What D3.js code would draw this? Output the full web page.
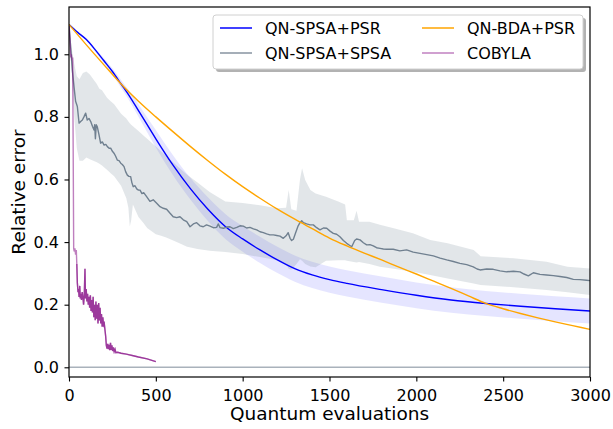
<!DOCTYPE html>
<html>
<head>
<meta charset="utf-8">
<script src="https://cdn.jsdelivr.net/npm/d3@7"></script>
<style>
  body { margin: 0; background: #fff; }
  svg { display: block; font-family: "DejaVu Sans", sans-serif; }
</style>
</head>
<body>
<div id="chart"></div>
<script>
'use strict';

const width = 613;
const height = 429;

// ----- data -----
const xTicks = [0, 500, 1000, 1500, 2000, 2500, 3000];
const yTicks = [0.0, 0.2, 0.4, 0.6, 0.8, 1.0];

// QN-SPSA+PSR (mean and band half width)
const psrX = [0, 50, 100, 150, 200, 250, 300, 350, 400, 450, 500, 600, 700, 800, 900, 1000, 1100, 1200, 1300, 1400, 1500, 1600, 1800, 2000, 2200, 2400, 2600, 2800, 3000];
const psrY = [1.095, 1.07, 1.047, 1.015, 0.98, 0.945, 0.905, 0.865, 0.82, 0.775, 0.73, 0.645, 0.57, 0.505, 0.45, 0.41, 0.375, 0.343, 0.315, 0.295, 0.28, 0.268, 0.248, 0.23, 0.215, 0.204, 0.195, 0.187, 0.18];
const psrErr = [0, 0.001, 0.003, 0.005, 0.008, 0.01, 0.013, 0.016, 0.02, 0.024, 0.028, 0.032, 0.035, 0.038, 0.04, 0.041, 0.042, 0.042, 0.042, 0.042, 0.042, 0.042, 0.042, 0.041, 0.041, 0.04, 0.04, 0.04, 0.04];

// QN-BDA+PSR
const bdaX = [0, 100, 200, 300, 400, 500, 600, 700, 800, 900, 1000, 1100, 1200, 1300, 1400, 1500, 1600, 1700, 1800, 1900, 2000, 2100, 2200, 2300, 2400, 2500, 2600, 2700, 2800, 2900, 3000];
const bdaY = [1.095, 1.03, 0.967, 0.905, 0.85, 0.8, 0.752, 0.705, 0.66, 0.617, 0.577, 0.54, 0.505, 0.473, 0.443, 0.413, 0.388, 0.365, 0.343, 0.32, 0.298, 0.275, 0.252, 0.228, 0.204, 0.187, 0.172, 0.158, 0.145, 0.133, 0.121];

// QN-SPSA+SPSA mean
const spsaX = [0, 10, 19, 29, 38, 48, 58, 67, 77, 86, 96, 105, 115, 125, 135, 144, 148, 152, 157, 163, 172, 182, 192, 202, 212, 221, 231, 240, 250, 259, 268, 278, 288, 298, 307, 317, 326, 336, 345, 355, 362, 370, 380, 390, 400, 409, 420, 430, 447, 466, 485, 505, 524, 543, 562, 582, 600, 620, 639, 658, 678, 697, 716, 735, 754, 773, 792, 812, 831, 850, 860, 870, 889, 908, 927, 946, 966, 985, 1004, 1023, 1042, 1062, 1081, 1100, 1119, 1138, 1157, 1177, 1196, 1215, 1234, 1250, 1262, 1273, 1282, 1292, 1305, 1318, 1330, 1340, 1350, 1368, 1388, 1407, 1426, 1445, 1465, 1484, 1503, 1522, 1541, 1560, 1580, 1599, 1615, 1628, 1645, 1656, 1676, 1695, 1714, 1733, 1752, 1771, 1791, 1810, 1829, 1867, 1905, 1944, 1982, 2021, 2060, 2098, 2137, 2175, 2213, 2251, 2290, 2328, 2350, 2367, 2405, 2443, 2482, 2520, 2559, 2597, 2620, 2645, 2674, 2712, 2750, 2789, 2827, 2866, 2904, 2942, 2980, 3000];
const spsaY = [1.095, 1.02, 0.95, 0.896, 0.85, 0.833, 0.78, 0.785, 0.79, 0.8, 0.812, 0.79, 0.795, 0.785, 0.77, 0.758, 0.775, 0.73, 0.775, 0.768, 0.745, 0.716, 0.72, 0.71, 0.712, 0.705, 0.7, 0.7, 0.69, 0.684, 0.675, 0.662, 0.66, 0.652, 0.648, 0.641, 0.625, 0.614, 0.61, 0.609, 0.59, 0.577, 0.58, 0.57, 0.566, 0.566, 0.555, 0.558, 0.545, 0.53, 0.535, 0.524, 0.513, 0.508, 0.505, 0.492, 0.481, 0.478, 0.481, 0.471, 0.465, 0.449, 0.458, 0.462, 0.452, 0.449, 0.455, 0.451, 0.446, 0.447, 0.458, 0.446, 0.444, 0.448, 0.449, 0.443, 0.447, 0.452, 0.451, 0.445, 0.447, 0.442, 0.439, 0.433, 0.43, 0.426, 0.423, 0.423, 0.421, 0.419, 0.412, 0.42, 0.43, 0.412, 0.405, 0.409, 0.43, 0.45, 0.462, 0.468, 0.462, 0.458, 0.455, 0.455, 0.446, 0.439, 0.445, 0.444, 0.435, 0.428, 0.425, 0.417, 0.405, 0.396, 0.39, 0.385, 0.405, 0.41, 0.407, 0.398, 0.391, 0.392, 0.388, 0.382, 0.38, 0.378, 0.377, 0.377, 0.372, 0.375, 0.368, 0.364, 0.36, 0.356, 0.349, 0.343, 0.338, 0.332, 0.328, 0.321, 0.314, 0.311, 0.314, 0.313, 0.308, 0.305, 0.307, 0.305, 0.298, 0.292, 0.302, 0.297, 0.295, 0.293, 0.29, 0.287, 0.281, 0.28, 0.278, 0.277];

// QN-SPSA+SPSA band
const bandX = [0, 15, 30, 45, 60, 80, 100, 120, 140, 160, 175, 190, 220, 240, 260, 300, 330, 342, 350, 358, 368, 400, 430, 450, 500, 530, 560, 620, 680, 740, 810, 900, 1000, 1100, 1200, 1250, 1265, 1280, 1310, 1330, 1342, 1360, 1390, 1420, 1480, 1550, 1590, 1600, 1640, 1656, 1670, 1730, 1790, 1870, 1980, 2080, 2180, 2330, 2370, 2560, 2750, 2870, 3000];
const bandHi = [1.095, 1.02, 0.97, 0.93, 0.92, 0.94, 0.945, 0.935, 0.92, 0.905, 0.89, 0.885, 0.86, 0.85, 0.84, 0.81, 0.795, 0.785, 0.78, 0.775, 0.77, 0.755, 0.74, 0.73, 0.705, 0.69, 0.675, 0.645, 0.615, 0.59, 0.56, 0.53, 0.525, 0.518, 0.508, 0.51, 0.566, 0.505, 0.5, 0.6, 0.636, 0.598, 0.566, 0.555, 0.545, 0.53, 0.52, 0.47, 0.47, 0.5, 0.465, 0.465, 0.455, 0.444, 0.428, 0.407, 0.396, 0.375, 0.355, 0.348, 0.337, 0.321, 0.316];
const bandLo = [1.095, 0.95, 0.8, 0.7, 0.66, 0.66, 0.67, 0.665, 0.66, 0.655, 0.65, 0.645, 0.63, 0.62, 0.61, 0.58, 0.54, 0.51, 0.45, 0.47, 0.52, 0.48, 0.46, 0.445, 0.425, 0.42, 0.415, 0.4, 0.385, 0.378, 0.372, 0.368, 0.362, 0.352, 0.342, 0.33, 0.315, 0.312, 0.33, 0.345, 0.34, 0.33, 0.322, 0.32, 0.34, 0.342, 0.342, 0.34, 0.336, 0.335, 0.336, 0.33, 0.321, 0.315, 0.305, 0.295, 0.284, 0.268, 0.263, 0.256, 0.247, 0.24, 0.231];

// COBYLA
const cobX = [0, 5, 10, 14, 18, 21, 24, 27, 30, 34, 38, 42, 45, 48, 52, 55, 58, 62, 65, 68, 72, 76, 80, 84, 88, 92, 95, 99, 103, 107, 111, 115, 119, 123, 127, 131, 135, 139, 143, 147, 151, 155, 159, 163, 167, 171, 175, 179, 183, 187, 191, 195, 199, 203, 207, 211, 215, 219, 223, 227, 231, 235, 239, 243, 247, 251, 255, 260, 265, 270, 280, 300, 330, 370, 400, 450, 500];
const cobY = [1.09, 1.05, 0.99, 1.0, 0.98, 0.99, 0.7, 0.38, 0.37, 0.38, 0.36, 0.375, 0.33, 0.27, 0.24, 0.25, 0.225, 0.26, 0.22, 0.235, 0.215, 0.24, 0.225, 0.2, 0.23, 0.315, 0.22, 0.25, 0.21, 0.235, 0.2, 0.225, 0.19, 0.23, 0.18, 0.215, 0.175, 0.225, 0.16, 0.2, 0.15, 0.21, 0.155, 0.2, 0.14, 0.205, 0.15, 0.19, 0.14, 0.17, 0.13, 0.16, 0.135, 0.14, 0.12, 0.1, 0.07, 0.06, 0.075, 0.058, 0.072, 0.055, 0.078, 0.056, 0.07, 0.052, 0.064, 0.05, 0.058, 0.047, 0.048, 0.045, 0.042, 0.037, 0.033, 0.027, 0.018];
const cobDense = 12; // index where the dense part of the runs begins

const legendItems = [
    {label: 'QN-SPSA+PSR', color: 'blue'},
    {label: 'QN-SPSA+SPSA', color: '#8793a0'},
    {label: 'QN-BDA+PSR', color: 'orange'},
    {label: 'COBYLA', color: '#c080c0'}
];

// ----- layout -----
const margin = {left: 69, top: 7, right: 590, bottom: 377};

const x = d3.scaleLinear().domain([0, 3000]).range([margin.left, margin.right]);
const y = d3.scaleLinear().domain([-0.031, 1.151]).range([margin.bottom, margin.top]);

let svg = d3.select('#chart').append('svg')
    .attr('width', width)
    .attr('height', height);

svg.append('defs').append('clipPath').attr('id', 'plot-clip')
    .append('rect')
    .attr('x', margin.left).attr('y', margin.top)
    .attr('width', margin.right - margin.left)
    .attr('height', margin.bottom - margin.top);

let g = svg.append('g').attr('clip-path', 'url(#plot-clip)');

const line = (xs, ys) => d3.line()
    .x((d, i) => x(xs[i]))
    .y((d, i) => y(ys[i]))(ys);

// blue band
g.append('path')
    .attr('d', d3.area()
        .x((d, i) => x(psrX[i]))
        .y0((d, i) => y(psrY[i] - psrErr[i]))
        .y1((d, i) => y(psrY[i] + psrErr[i]))
        .curve(d3.curveMonotoneX)(psrY))
    .attr('fill', 'blue')
    .attr('fill-opacity', 0.1);

// gray band
g.append('path')
    .attr('d', d3.area()
        .x((d, i) => x(bandX[i]))
        .y0((d, i) => y(bandLo[i]))
        .y1((d, i) => y(bandHi[i]))(bandHi))
    .attr('fill', 'slategray')
    .attr('fill-opacity', 0.2);

g.append('path')
    .attr('d', d3.line()
        .x((d, i) => x(psrX[i]))
        .y(d => y(d))
        .curve(d3.curveMonotoneX)(psrY))
    .attr('fill', 'none')
    .attr('stroke', 'blue')
    .attr('stroke-width', 1.4);

g.append('path')
    .attr('d', line(spsaX, spsaY))
    .attr('fill', 'none')
    .attr('stroke', '#708090')
    .attr('stroke-width', 1.4)
    .attr('stroke-linejoin', 'round');

g.append('path')
    .attr('d', d3.line()
        .x((d, i) => x(bdaX[i]))
        .y(d => y(d))
        .curve(d3.curveMonotoneX)(bdaY))
    .attr('fill', 'none')
    .attr('stroke', 'orange')
    .attr('stroke-width', 1.4);

// COBYLA: light single run, darker where the runs overlap
g.append('path')
    .attr('d', line(cobX, cobY))
    .attr('fill', 'none')
    .attr('stroke', 'purple')
    .attr('stroke-opacity', 0.5)
    .attr('stroke-width', 1.4);

g.append('path')
    .attr('d', line(cobX.slice(cobDense), cobY.slice(cobDense)))
    .attr('fill', 'none')
    .attr('stroke', 'purple')
    .attr('stroke-opacity', 0.55)
    .attr('stroke-width', 1.4);

// zero line
g.append('line')
    .attr('x1', margin.left).attr('x2', margin.right)
    .attr('y1', y(0)).attr('y2', y(0))
    .attr('stroke', '#a9b2bb')
    .attr('stroke-width', 1.5);

// ----- axes -----
const xAxis = svg.append('g')
    .attr('transform', `translate(0,${margin.bottom})`)
    .call(d3.axisBottom(x).tickValues(xTicks).tickFormat(d3.format('d')).tickSize(4.5).tickSizeOuter(0).tickPadding(8));

const yAxis = svg.append('g')
    .attr('transform', `translate(${margin.left},0)`)
    .call(d3.axisLeft(y).tickValues(yTicks).tickFormat(d3.format('.1f')).tickSize(4.5).tickSizeOuter(0).tickPadding(5.5));

[xAxis, yAxis].forEach(a => {
    a.select('.domain').remove();
    a.selectAll('line').attr('stroke', '#000').attr('stroke-width', 1.1);
    a.selectAll('text')
        .attr('fill', '#000')
        .style('font-size', '16px')
        .style('font-family', '"DejaVu Sans", sans-serif');
});

svg.append('rect')
    .attr('x', margin.left).attr('y', margin.top)
    .attr('width', margin.right - margin.left)
    .attr('height', margin.bottom - margin.top)
    .attr('fill', 'none')
    .attr('stroke', '#000')
    .attr('stroke-width', 1.2);

svg.append('text')
    .attr('x', (margin.left + margin.right) / 2)
    .attr('y', 420)
    .attr('text-anchor', 'middle')
    .style('font-size', '18.5px')
    .text('Quantum evaluations');

svg.append('text')
    .attr('transform', `translate(24.5,${(margin.top + margin.bottom) / 2}) rotate(-90)`)
    .attr('text-anchor', 'middle')
    .style('font-size', '18.5px')
    .text('Relative error');

// ----- legend -----
let legend = svg.append('g');

legend.append('rect')
    .attr('x', 216).attr('y', 18)
    .attr('width', 370).attr('height', 54)
    .attr('rx', 3)
    .attr('fill', '#000')
    .attr('fill-opacity', 0.3);

legend.append('rect')
    .attr('x', 213).attr('y', 15)
    .attr('width', 370).attr('height', 54)
    .attr('rx', 3)
    .attr('fill', '#fff')
    .attr('stroke', '#d0d0d0')
    .attr('stroke-width', 1);

legendItems.forEach((item, i) => {
    const col = Math.floor(i / 2);
    const row = i % 2;
    const lx = col === 0 ? 220 : 422;
    const ly = 28 + row * 25;
    legend.append('line')
        .attr('x1', lx).attr('x2', lx + 32)
        .attr('y1', ly).attr('y2', ly)
        .attr('stroke', item.color)
        .attr('stroke-width', 1.5);
    legend.append('text')
        .attr('x', lx + 45)
        .attr('y', ly)
        .attr('dy', '0.36em')
        .style('font-size', '16px')
        .text(item.label);
});
</script>
</body>
</html>
